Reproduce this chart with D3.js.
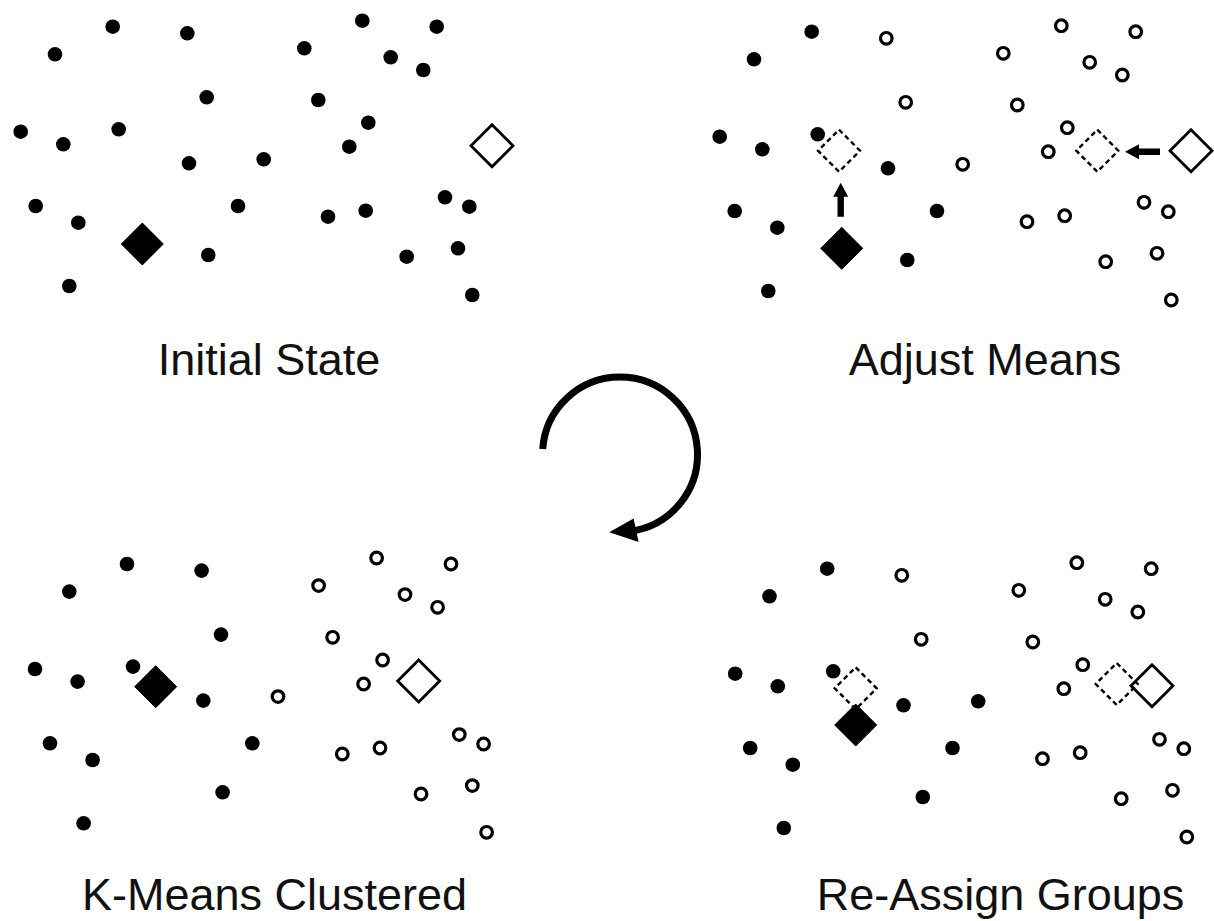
<!DOCTYPE html>
<html>
<head>
<meta charset="utf-8">
<script src="https://cdn.jsdelivr.net/npm/d3@7"></script>
<style>
  html, body { margin: 0; padding: 0; background: #fff; }
  svg { display: block; }
</style>
</head>
<body>
<svg id="chart" width="1214" height="921"></svg>
<script>
// ---- Data (base coordinates of the same 29 points, shared by all panels) ----
const pointX = [112.7, 187.3, 55, 362.3, 436.7, 304.3, 390.7, 423.3, 206.7, 318.3,
                20.7, 63.3, 118.7, 368.3, 349.3, 189, 263.7, 35.7, 78.3, 238,
                328, 365.7, 445, 469.3, 208.3, 406.7, 458, 69.3, 472.3];
const pointY = [26.7, 33.3, 54.3, 20.7, 26.7, 48.3, 57.3, 70, 97.3, 100,
                131.7, 144.3, 129.3, 122.7, 146.7, 163.3, 159.3, 206, 222.7, 206,
                216.7, 210.7, 197.3, 206.7, 255, 256.7, 248.3, 286, 295];

// group membership per panel: 1 = filled cluster, 0 = open cluster
const groupInitial   = [1,1,1,1,1,1,1,1,1,1, 1,1,1,1,1,1,1,1,1,1, 1,1,1,1,1,1,1,1,1];
const groupAdjust    = [1,0,1,0,0,0,0,0,0,0, 1,1,1,0,0,1,0,1,1,1, 0,0,0,0,1,0,0,1,0];
const groupClustered = [1,1,1,0,0,0,0,0,1,0, 1,1,1,0,0,1,0,1,1,1, 0,0,0,0,1,0,0,1,0];
const groupReassign  = [1,0,1,0,0,0,0,0,0,0, 1,1,1,0,0,1,1,1,1,1, 0,0,0,0,1,0,0,1,0];

// means (diamonds): x, y, style
const meansInitial   = [{x:142.3, y:244,   s:"filled"}, {x:492,   y:145.7, s:"open"}];
const meansAdjust    = [{x:140,   y:145.7, s:"dashed"}, {x:398.3, y:145.7, s:"dashed"},
                        {x:142.7, y:243.3, s:"filled"}, {x:492,   y:145.7, s:"open"}];
const meansClustered = [{x:141.4, y:149.4, s:"filled"}, {x:404.4, y:143.7, s:"open"}];
const meansReassign  = [{x:141.2, y:146.3, s:"dashed"}, {x:402.2, y:142,   s:"dashed"},
                        {x:141.2, y:183,   s:"filled"}, {x:437.5, y:143.7, s:"open"}];

// movement arrows (from -> to)
const arrowsAdjust = [{x1:141.7, y1:211.7, x2:141.7, y2:177.7},
                      {x1:461,   y1:146.7, x2:426,   y2:146.7}];

const panelTitles = ["Initial State", "Adjust Means", "K-Means Clustered", "Re-Assign Groups"];

// ---- Layout ----
const panels = [
  {title: panelTitles[0], ox: 0,     oy: 0,     groups: groupInitial,   means: meansInitial,   arrows: [],           lx: 269,   ly: 375},
  {title: panelTitles[1], ox: 699,   oy: 5,     groups: groupAdjust,    means: meansAdjust,    arrows: arrowsAdjust, lx: 985,   ly: 375},
  {title: panelTitles[2], ox: 14.3,  oy: 537.3, groups: groupClustered, means: meansClustered, arrows: [],           lx: 274.5, ly: 910},
  {title: panelTitles[3], ox: 714.5, oy: 542,   groups: groupReassign,  means: meansReassign,  arrows: [],           lx: 1000.5,ly: 910}
];

const svg = d3.select("#chart");
const points = pointX.map((x, i) => ({x, y: pointY[i], i}));
const H = 21; // diamond half-diagonal

panels.forEach(p => {
  const xs = d3.scaleLinear().domain([0, 500]).range([p.ox, p.ox + 500]);
  const ys = d3.scaleLinear().domain([0, 300]).range([p.oy, p.oy + 300]);
  const g = svg.append("g");

  // diamonds
  const diamond = d => {
    const cx = xs(d.x), cy = ys(d.y);
    return `M${cx},${cy - H}L${cx + H},${cy}L${cx},${cy + H}L${cx - H},${cy}Z`;
  };
  g.selectAll("path.mean").data(p.means).join("path")
    .attr("class", "mean")
    .attr("d", diamond)
    .attr("fill", d => d.s === "filled" ? "#000" : "none")
    .attr("stroke", "#000")
    .attr("stroke-width", d => d.s === "dashed" ? 2.4 : (d.s === "open" ? 2.8 : 1))
    .attr("stroke-dasharray", d => d.s === "dashed" ? "5,3.5" : null)
    .attr("stroke-linejoin", "miter");

  // arrows
  p.arrows.forEach(a => {
    const x1 = xs(a.x1), y1 = ys(a.y1), x2 = xs(a.x2), y2 = ys(a.y2);
    const dx = x2 - x1, dy = y2 - y1, len = Math.hypot(dx, dy);
    const ux = dx / len, uy = dy / len, nx = -uy, ny = ux;
    const headL = 14, headW = 7.5, shaftW = 3.2;
    const bx = x2 - ux * headL, by = y2 - uy * headL;
    const pts = [
      [x1 + nx * shaftW, y1 + ny * shaftW],
      [bx + nx * shaftW, by + ny * shaftW],
      [bx + nx * headW, by + ny * headW],
      [x2, y2],
      [bx - nx * headW, by - ny * headW],
      [bx - nx * shaftW, by - ny * shaftW],
      [x1 - nx * shaftW, y1 - ny * shaftW]
    ];
    g.append("path").attr("d", d3.line()(pts) + "Z").attr("fill", "#000");
  });

  // points
  g.selectAll("circle.pt").data(points).join("circle")
    .attr("class", "pt")
    .attr("cx", d => xs(d.x))
    .attr("cy", d => ys(d.y))
    .attr("r", d => p.groups[d.i] ? 7.3 : 5.8)
    .attr("fill", d => p.groups[d.i] ? "#000" : "#fff")
    .attr("stroke", d => p.groups[d.i] ? "none" : "#000")
    .attr("stroke-width", 3.2);

  // title
  svg.append("text")
    .attr("x", p.lx).attr("y", p.ly)
    .attr("text-anchor", "middle")
    .attr("font-family", "'Liberation Sans', Arial, Helvetica, sans-serif")
    .attr("font-size", 45)
    .attr("fill", "#111")
    .text(p.title);
});

// ---- circular cycle arrow ----
const cx = 620, cy = 454.5, R = 77.5;
const a0 = 184 * Math.PI / 180, a1 = (360 + 82) * Math.PI / 180;
const arcPath = d3.path();
arcPath.arc(cx, cy, R, a0, a1, false);
svg.append("path").attr("d", arcPath.toString())
  .attr("fill", "none").attr("stroke", "#000").attr("stroke-width", 7);

const tipA = 98 * Math.PI / 180, baseA = 78 * Math.PI / 180;
const head = [
  [cx + (R + 12) * Math.cos(baseA), cy + (R + 12) * Math.sin(baseA)],
  [cx + R * Math.cos(tipA) , cy + R * Math.sin(tipA) + 1],
  [cx + (R - 12) * Math.cos(baseA), cy + (R - 12) * Math.sin(baseA)]
];
svg.append("path").attr("d", d3.line()(head) + "Z").attr("fill", "#000");
</script>
</body>
</html>
